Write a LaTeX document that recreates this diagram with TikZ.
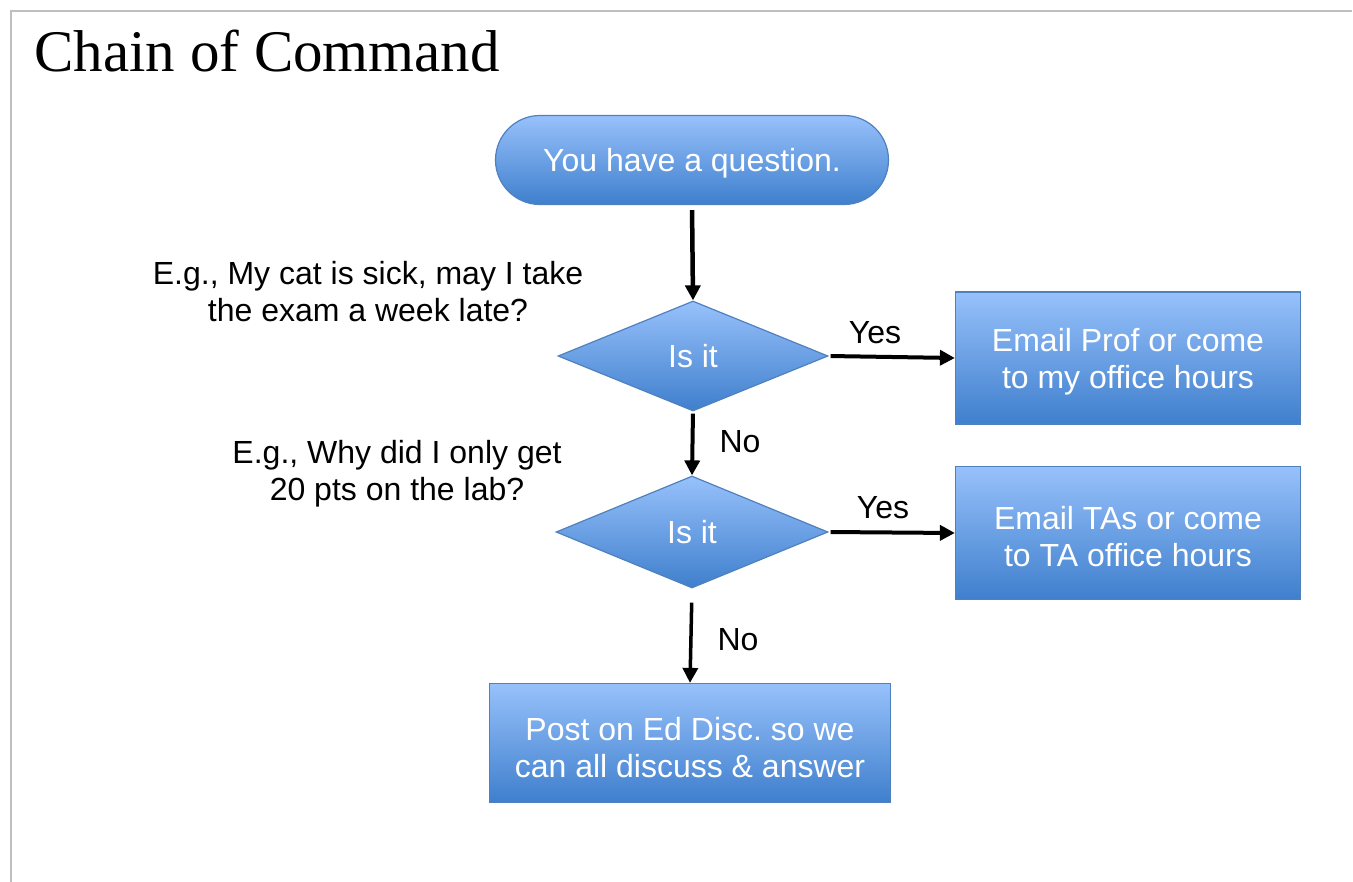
\documentclass[tikz,border=0pt]{standalone}
\usepackage{fontspec}
\setmainfont{Liberation Sans}
\newfontfamily\titlefont{Liberation Serif}
\usetikzlibrary{shapes.geometric,shapes.misc,arrows.meta}
\definecolor{btop}{HTML}{97C1FB}
\definecolor{bbot}{HTML}{3F7FCD}
\definecolor{bedge}{HTML}{4F81BD}
\definecolor{framegray}{HTML}{BFBFBF}
\frenchspacing
\begin{document}
\begin{tikzpicture}[x=1pt,y=-1pt,
  flow/.style={draw=bedge, line width=1.2pt, top color=btop, bottom color=bbot,
    text=white, font=\fontsize{32}{37}\selectfont, align=center, inner sep=0pt},
  textdown/.style={execute at begin node={\rule{0pt}{#1}}},
  boxtext/.style={text=white, font=\fontsize{32}{37}\selectfont, align=center, inner sep=0pt, yshift=-4pt},
  boxnode/.style={flow, rectangle, minimum width=345pt, minimum height=132pt},
  decision/.style={flow, diamond, minimum width=270pt, minimum height=110pt},
  arr/.style={-{Triangle[length=15pt,width=15pt]}, line width=4pt, black},
  lbl/.style={font=\fontsize{32}{37}\selectfont, align=center, text=black}
]
\useasboundingbox (0,0) rectangle (1353,882);
\coordinate (frameR) at (1352,11);
\coordinate (frameC) at (11,11);
\coordinate (frameB) at (11,882);
\draw[framegray, line width=2pt] (frameR) -- (frameC) -- (frameB);

\node[anchor=base west, font=\titlefont\fontsize{59}{70}\selectfont] (title) at (31,72) {Chain of Command};

\node[flow, rounded rectangle, minimum width=393pt, minimum height=89pt, textdown=29.5pt] (start) at (692,160) {You have a question.};
\node[decision] (d1) at (693,356) {Is it};
\node[decision, minimum width=272pt, minimum height=112pt] (d2) at (692,532) {Is it};
\node[boxnode, label={[boxtext]center:{Email Prof or come\\to my office hours}}] (b1) at (1128,358) {};
\node[boxnode, minimum height=133pt, label={[boxtext]center:{Email TAs or come\\to TA office hours}}] (b2) at (1128,533) {};
\node[boxnode, minimum width=401pt, minimum height=119pt, label={[boxtext, yshift=-1pt]center:{Post on Ed Disc.\ so we\\can all discuss \& answer}}] (b3) at (690,743) {};

\node[lbl] (e1) at (368,292) {E.g., My cat is sick, may I take\\the exam a week late?};
\node[lbl] (e2) at (397,474) {E.g., Why did I only get\\20 pts on the lab?};
\node[lbl] (yes1) at (875,333) {Yes};
\node[lbl] (yes2) at (883,508) {Yes};
\node[lbl] (no1) at (740,442) {No};
\node[lbl] (no2) at (738,640) {No};

\draw[arr, line width=4.5pt, shorten <=5pt] (start.south) -- (d1.north);
\draw[arr, shorten <=2pt] (d1.east) -- (b1.west);
\draw[arr, shorten <=2pt] (d1.south) -- (d2.north);
\draw[arr, shorten <=2pt] (d2.east) -- (b2.west);
\draw[arr, line width=3.5pt, shorten <=14pt] (d2.south) -- (b3.north);
\end{tikzpicture}
\end{document}
